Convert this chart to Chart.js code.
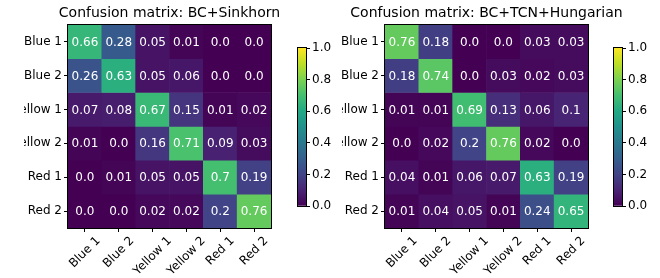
<!DOCTYPE html>
<html>
<head>
<meta charset="utf-8">
<script src="https://cdn.jsdelivr.net/npm/chart.js@4"></script>
<style>
  html, body { margin: 0; padding: 0; background: #fff; }
  body { width: 660px; height: 278px; position: relative; overflow: hidden; }
  .clip { position: absolute; top: 0; height: 278px; overflow: hidden; }
  .clip canvas, .cbar { position: absolute; top: 0; }
</style>
</head>
<body>
<div class="clip" style="left:24px;width:306px;"><canvas id="leftChart" width="339" height="278" style="left:-24px;width:339px;height:278px;"></canvas></div>
<canvas id="leftBar" class="cbar" width="50" height="278" style="left:290px;width:50px;height:278px;"></canvas>
<div class="clip" style="left:342px;width:318px;"><canvas id="rightChart" width="339" height="278" style="left:-25px;width:339px;height:278px;"></canvas></div>
<canvas id="rightBar" class="cbar" width="50" height="278" style="left:606px;width:50px;height:278px;"></canvas>
<script>
// === DATA ===
const classes = ["Blue 1", "Blue 2", "Yellow 1", "Yellow 2", "Red 1", "Red 2"];

const sinkhornTitle = "Confusion matrix: BC+Sinkhorn";
const sinkhornMatrix = [
  [0.66, 0.28, 0.05, 0.01, 0.0, 0.0],
  [0.26, 0.63, 0.05, 0.06, 0.0, 0.0],
  [0.07, 0.08, 0.67, 0.15, 0.01, 0.02],
  [0.01, 0.0, 0.16, 0.71, 0.09, 0.03],
  [0.0, 0.01, 0.05, 0.05, 0.7, 0.19],
  [0.0, 0.0, 0.02, 0.02, 0.2, 0.76],
];

const hungarianTitle = "Confusion matrix: BC+TCN+Hungarian";
const hungarianMatrix = [
  [0.76, 0.18, 0.0, 0.0, 0.03, 0.03],
  [0.18, 0.74, 0.0, 0.03, 0.02, 0.03],
  [0.01, 0.01, 0.69, 0.13, 0.06, 0.1],
  [0.0, 0.02, 0.2, 0.76, 0.02, 0.0],
  [0.04, 0.01, 0.06, 0.07, 0.63, 0.19],
  [0.01, 0.04, 0.05, 0.01, 0.24, 0.65],
];

const colorbarTicks = [0, 0.2, 0.4, 0.6, 0.8, 1.0];

// === STYLE ===
const FONT = "'DejaVu Sans', sans-serif";
Chart.defaults.font.family = FONT;
Chart.defaults.font.size = 12;
Chart.defaults.color = "#000";
Chart.defaults.animation = false;

// viridis colormap stops
const viridis = ["#440154", "#482475", "#414487", "#355f8d", "#2a788e", "#21918c",
                 "#22a884", "#44bf70", "#7ad151", "#bddf26", "#fde725"];

function hexToRgb(h) {
  return [1, 3, 5].map((i) => parseInt(h.slice(i, i + 2), 16));
}

function viridisColor(v) {
  const t = Math.max(0, Math.min(1, v)) * (viridis.length - 1);
  const i = Math.min(Math.floor(t), viridis.length - 2);
  const f = t - i;
  const a = hexToRgb(viridis[i]), b = hexToRgb(viridis[i + 1]);
  const c = a.map((x, k) => Math.round(x + (b[k] - x) * f));
  return `rgb(${c[0]},${c[1]},${c[2]})`;
}

function fmt(v) {
  return Number.isInteger(v) ? v.toFixed(1) : String(v);
}

// === PLUGINS ===
// values written in the cells
const cellText = {
  id: "cellText",
  afterDatasetsDraw(chart, args, opts) {
    const { ctx, scales } = chart;
    ctx.save();
    ctx.fillStyle = "#fff";
    ctx.font = `12px ${FONT}`;
    ctx.textAlign = "center";
    ctx.textBaseline = "middle";
    opts.matrix.forEach((row, r) => {
      row.forEach((v, c) => {
        ctx.fillText(fmt(v), scales.x.getPixelForValue(c), scales.y.getPixelForValue(r + 0.5) + 1);
      });
    });
    ctx.restore();
  },
};

// x labels rotated 45deg, centred on the tick (like matplotlib)
const xLabels = {
  id: "xLabels",
  afterDraw(chart) {
    const { ctx, scales, chartArea } = chart;
    const top = chartArea.bottom + 6;
    const h = 14;
    ctx.save();
    ctx.fillStyle = "#000";
    ctx.font = `12px ${FONT}`;
    ctx.textAlign = "center";
    ctx.textBaseline = "middle";
    classes.forEach((lab, i) => {
      const w = ctx.measureText(lab).width;
      const x = scales.x.getPixelForValue(i);
      const y = top + (w + h) * Math.SQRT1_2 / 2;
      ctx.save();
      ctx.translate(x, y);
      ctx.rotate(-Math.PI / 4);
      ctx.fillText(lab, 0, 0);
      ctx.restore();
    });
    ctx.restore();
  },
};

const frame = {
  id: "frame",
  afterDatasetsDraw(chart) {
    const { ctx, chartArea: a } = chart;
    ctx.save();
    ctx.strokeStyle = "#000";
    ctx.lineWidth = 1;
    ctx.strokeRect(Math.round(a.left) - 0.5, Math.round(a.top) - 0.5,
                   Math.round(a.right - a.left) + 1, Math.round(a.bottom - a.top) + 1);
    ctx.restore();
  },
};

// === HEATMAP ===
function drawMatrix(id, title, matrix) {
  const datasets = matrix.map((row, r) => ({
    data: row.map(() => [r, r + 1]),
    backgroundColor: row.map((v) => viridisColor(v)),
    borderWidth: 0,
    barPercentage: 1,
    categoryPercentage: 1,
  }));

  new Chart(document.getElementById(id), {
    type: "bar",
    data: { labels: classes, datasets },
    plugins: [cellText, frame, xLabels],
    options: {
      responsive: false,
      layout: { padding: 0 },
      scales: {
        x: {
          stacked: true,
          grid: { drawOnChartArea: false, drawTicks: true, tickLength: 4, offset: false, color: "#000" },
          border: { display: false },
          ticks: { display: false },
          afterFit: (s) => { s.height = 50; },
        },
        y: {
          stacked: false,
          min: 0,
          max: 6,
          reverse: true,
          grid: { drawOnChartArea: false, drawTicks: true, tickLength: 4, color: "#000" },
          border: { display: false },
          ticks: { padding: 2, callback: (v) => classes[Math.floor(v)] },
          afterBuildTicks: (s) => { s.ticks = classes.map((_, i) => ({ value: i + 0.5 })); },
          afterFit: (s) => { s.width = 68; },
        },
        // empty right margin so the title sits centred over the cells
        yRight: {
          position: "right",
          display: true,
          grid: { display: false },
          border: { display: false },
          ticks: { display: false },
          afterFit: (s) => { s.width = 68; },
        },
      },
      plugins: {
        legend: { display: false },
        tooltip: { enabled: false },
        title: {
          display: true,
          text: title,
          color: "#000",
          font: { size: 14, weight: "normal" },
          padding: { top: 5, bottom: 3 },
        },
        cellText: { matrix },
      },
    },
  });
}

// === COLORBAR ===
function drawColorbar(id) {
  new Chart(document.getElementById(id), {
    type: "bar",
    data: {
      labels: [""],
      datasets: [{
        data: [[colorbarTicks[0], colorbarTicks[colorbarTicks.length - 1]]],
        backgroundColor: (c) => {
          const a = c.chart.chartArea;
          if (!a) return viridis[0];
          const g = c.chart.ctx.createLinearGradient(0, a.bottom, 0, a.top);
          viridis.forEach((col, i) => g.addColorStop(i / (viridis.length - 1), col));
          return g;
        },
        borderWidth: 0,
        barPercentage: 1,
        categoryPercentage: 1,
      }],
    },
    plugins: [frame],
    options: {
      responsive: false,
      layout: { padding: { left: 8, right: 0, top: 48, bottom: 72 } },
      scales: {
        x: { display: false },
        y: {
          position: "right",
          min: 0,
          max: 1,
          grid: { drawOnChartArea: false, drawTicks: true, tickLength: 4, color: "#000" },
          border: { display: false },
          ticks: { padding: 2, callback: (v) => v.toFixed(1) },
          afterBuildTicks: (s) => { s.ticks = colorbarTicks.map((v) => ({ value: v })); },
          afterFit: (s) => { s.width = 34; },
        },
      },
      plugins: { legend: { display: false }, tooltip: { enabled: false } },
    },
  });
}

drawMatrix("leftChart", sinkhornTitle, sinkhornMatrix);
drawColorbar("leftBar");
drawMatrix("rightChart", hungarianTitle, hungarianMatrix);
drawColorbar("rightBar");
</script>
</body>
</html>
